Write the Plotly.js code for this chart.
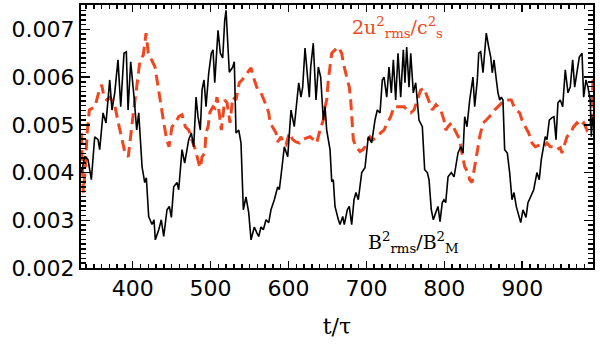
<!DOCTYPE html>
<html>
<head>
<meta charset="utf-8">
<script src="https://cdn.plot.ly/plotly-3.0.1.min.js"></script>
<style>
  body { margin: 0; background: #fff; }
  #plot { width: 600px; height: 346px; }
</style>
</head>
<body>
<div id="plot"></div>
<script>
// B_rms^2 / B_M^2  (black, solid), values in units of 1e-4
var tB = [334.0, 338.4, 342.6, 346.9, 351.2, 355.5, 357.6, 361.9, 365.7, 370.5, 373.4, 376.9, 381.1, 384.6, 388.8, 391.8,
  394.0, 397.4, 401.7, 405.1, 407.7, 412.0, 415.4, 417.5, 420.5, 424.8, 427.3, 429.0, 433.4, 436.7, 439.8, 444.0,
  447.0, 449.6, 452.6, 456.9, 459.0, 463.3, 466.7, 471.9, 475.2, 478.3, 481.3, 483.8, 486.8, 489.0, 491.5, 494.1,
  497.6, 500.9, 503.1, 505.3, 509.5, 512.5, 515.5, 518.1, 519.8, 524.0, 528.4, 530.4, 532.6, 536.1, 539.0, 542.0,
  545.4, 548.9, 551.9, 556.1, 559.2, 561.7, 564.7, 567.7, 571.1, 574.6, 577.5, 581.8, 586.1, 588.2, 591.7, 594.6,
  599.0, 603.2, 607.4, 613.1, 616.0, 618.2, 621.2, 623.4, 626.7, 628.5, 631.8, 635.3, 638.3, 641.3, 644.7, 646.9,
  649.0, 653.3, 655.5, 657.5, 659.7, 664.0, 666.1, 669.6, 671.6, 675.5, 678.0, 681.1, 684.1, 686.6, 689.6, 694.0,
  698.2, 702.4, 706.8, 711.0, 714.0, 717.5, 720.4, 722.6, 726.1, 729.0, 732.0, 734.6, 737.6, 740.6, 744.0, 747.4,
  749.5, 751.7, 754.7, 756.9, 760.2, 763.3, 767.5, 771.8, 774.8, 778.2, 780.4, 783.3, 785.9, 789.0, 791.9, 794.5,
  797.4, 799.6, 801.8, 804.8, 809.0, 812.5, 814.1, 817.6, 821.1, 824.0, 826.2, 829.1, 832.6, 834.7, 836.8, 839.0,
  842.4, 844.2, 846.7, 849.7, 851.9, 853.9, 857.0, 859.6, 861.6, 863.8, 866.8, 868.9, 871.1, 873.2, 875.3, 877.5,
  880.9, 883.9, 886.9, 889.5, 892.4, 895.5, 898.1, 901.0, 904.9, 907.4, 910.4, 914.8, 918.9, 921.9, 924.5, 927.6,
  929.6, 931.8, 934.8, 938.2, 940.8, 943.4, 945.9, 948.9, 952.0, 955.3, 958.8, 961.7, 964.8, 967.4, 970.3, 973.3,
  976.8, 978.9, 981.9, 984.4, 987.4, 988.7, 990.5];
var vB = [39.9, 43.4, 42.7, 38.5, 47.5, 46.9, 44.8, 52.5, 50.4, 59.4, 53.1, 56.7, 63.6, 53.8, 65.0, 65.3,
  53.1, 63.2, 55.8, 48.9, 52.5, 41.2, 37.9, 38.9, 30.8, 29.1, 30.1, 25.9, 28.0, 30.1, 26.6, 32.2,
  32.9, 30.6, 37.0, 37.9, 36.4, 44.8, 42.0, 46.9, 48.3, 45.4, 55.8, 51.7, 48.9, 57.3, 59.4, 53.8,
  60.9, 65.0, 65.7, 58.8, 69.8, 65.0, 64.0, 71.9, 74.0, 61.0, 62.1, 63.2, 48.3, 48.9, 46.2, 32.2,
  34.9, 31.6, 25.9, 28.6, 27.4, 26.6, 28.6, 28.0, 30.1, 29.5, 32.2, 34.3, 37.0, 36.4, 41.2, 45.4,
  43.3, 53.1, 49.6, 58.8, 55.8, 57.9, 66.1, 62.1, 55.8, 62.1, 67.1, 55.2, 62.1, 60.0, 51.0, 53.8,
  48.9, 44.8, 38.1, 38.5, 32.9, 30.1, 29.1, 30.8, 29.1, 32.2, 32.9, 29.1, 34.3, 35.8, 34.3, 40.0,
  41.0, 47.5, 46.2, 51.0, 53.1, 52.5, 59.4, 60.0, 55.8, 62.1, 56.7, 63.6, 55.2, 65.0, 55.8, 65.7,
  58.8, 66.3, 57.9, 65.0, 56.7, 58.8, 51.0, 49.6, 40.6, 40.0, 38.5, 32.2, 30.1, 31.6, 32.9, 29.7,
  33.7, 34.3, 33.7, 39.1, 40.0, 39.1, 40.6, 44.1, 45.4, 44.1, 51.7, 49.6, 55.2, 57.9, 60.0, 53.8,
  59.4, 65.0, 65.3, 60.9, 65.7, 69.2, 66.3, 64.2, 60.9, 63.6, 59.4, 56.7, 55.2, 55.8, 55.2, 44.8,
  44.1, 40.0, 34.3, 35.8, 32.9, 30.8, 29.5, 32.2, 30.6, 33.7, 34.7, 36.4, 40.0, 38.5, 42.7, 45.4,
  47.5, 46.9, 51.0, 51.5, 51.7, 46.9, 54.6, 55.2, 53.8, 61.5, 56.7, 57.9, 63.6, 57.9, 60.9, 64.2,
  65.0, 55.8, 59.4, 57.9, 55.2, 47.5, 51.7];

// 2 u_rms^2 / c_s^2  (red, dashed), values in units of 1e-4
var tU = [334.0, 336.6, 339.4, 341.3, 344.3, 347.8, 351.6, 355.5, 360.2, 363.2, 367.0, 370.9, 374.7, 377.3, 381.5, 385.9,
  390.1, 394.3, 396.5, 400.8, 405.1, 409.4, 413.6, 417.1, 420.0, 424.4, 428.6, 431.2, 435.0, 439.3, 443.6, 446.6,
  450.4, 454.7, 459.0, 463.3, 467.5, 471.9, 475.7, 480.4, 484.7, 486.8, 489.0, 492.4, 494.1, 496.7, 499.2, 503.1,
  505.6, 508.2, 511.4, 513.7, 518.1, 521.1, 524.9, 528.4, 532.6, 536.8, 540.3, 545.4, 549.7, 551.9, 556.1, 560.5,
  564.7, 569.0, 572.0, 574.6, 576.3, 580.1, 584.0, 586.1, 590.4, 593.3, 596.8, 601.0, 605.4, 609.6, 613.9, 617.3,
  623.4, 627.6, 631.8, 636.2, 640.4, 644.7, 646.9, 649.0, 651.1, 653.3, 655.5, 659.7, 664.0, 668.3, 670.4, 674.7,
  678.0, 679.8, 681.1, 683.2, 686.6, 691.8, 695.6, 698.2, 702.4, 704.6, 708.9, 714.0, 718.3, 722.6, 726.8, 731.2,
  735.4, 741.8, 748.3, 752.5, 756.9, 761.1, 765.3, 767.5, 769.7, 773.9, 778.2, 780.4, 784.6, 789.3, 795.4, 799.6,
  801.8, 804.8, 809.0, 815.4, 819.8, 821.8, 824.0, 826.2, 830.4, 832.6, 835.6, 841.1, 843.3, 845.4, 847.5, 849.7,
  853.9, 858.3, 862.5, 864.7, 869.0, 873.2, 877.5, 881.8, 886.0, 889.5, 892.4, 896.8, 899.7, 904.0, 908.3, 912.6,
  916.8, 923.2, 927.6, 931.8, 936.1, 940.4, 944.7, 948.9, 951.1, 957.5, 961.8, 966.1, 970.3, 974.6, 979.0, 983.2,
  987.4, 989.6, 991.0];
var vU = [48.3, 35.8, 41.6, 47.9, 53.1, 53.5, 53.8, 56.3, 58.4, 55.8, 55.2, 55.8, 54.6, 53.8, 50.4, 46.9,
  44.1, 43.3, 46.9, 52.5, 57.9, 63.6, 64.6, 69.2, 65.0, 63.6, 62.1, 59.4, 55.2, 51.0, 46.9, 45.4,
  49.6, 50.4, 51.7, 52.1, 49.6, 48.9, 46.9, 44.8, 42.0, 41.0, 43.3, 44.1, 48.3, 49.6, 52.7, 53.8,
  53.5, 55.8, 52.1, 48.9, 55.2, 54.6, 50.4, 55.8, 55.2, 58.8, 59.4, 60.4, 61.5, 61.9, 59.4, 57.3,
  56.7, 55.2, 53.8, 52.5, 50.4, 49.4, 48.3, 46.4, 47.5, 46.2, 45.8, 48.3, 46.9, 46.4, 46.2, 46.9,
  47.3, 47.5, 46.9, 46.2, 48.9, 51.0, 53.8, 55.2, 59.4, 62.1, 65.0, 65.7, 66.3, 65.0, 62.9, 60.0,
  57.9, 55.2, 51.7, 46.9, 45.4, 44.4, 44.8, 45.4, 46.9, 47.5, 46.9, 47.5, 48.3, 48.9, 50.4, 51.7,
  53.8, 53.8, 53.8, 53.1, 52.5, 53.1, 55.2, 56.7, 57.3, 57.7, 55.8, 55.2, 53.1, 54.2, 53.1, 51.0,
  48.9, 49.6, 50.4, 48.3, 46.9, 44.8, 43.3, 41.2, 40.0, 38.5, 37.9, 42.7, 45.4, 47.5, 48.9, 50.4,
  51.0, 51.7, 52.5, 53.1, 53.8, 54.6, 55.2, 55.2, 55.2, 53.8, 53.1, 52.5, 51.0, 49.6, 48.3, 46.2,
  45.4, 45.8, 45.4, 46.2, 45.4, 45.4, 44.8, 45.2, 44.1, 47.5, 48.3, 49.6, 50.4, 49.6, 50.4, 48.9,
  49.6, 53.1, 60.0];

var xTicks = [400, 500, 600, 700, 800, 900];
var yTicks = [0.002, 0.003, 0.004, 0.005, 0.006, 0.007];

var red = '#f2461e';

var trace1 = {
  x: tU,
  y: vU.map(function (v) { return v * 1e-4; }),
  type: 'scatter',
  mode: 'lines',
  line: {color: red, width: 3, dash: '11px,6px'},
  hoverinfo: 'none'
};

var trace2 = {
  x: tB,
  y: vB.map(function (v) { return v * 1e-4; }),
  type: 'scatter',
  mode: 'lines',
  line: {color: 'black', width: 1.6},
  hoverinfo: 'none'
};

var layout = {
  width: 600,
  height: 346,
  margin: {l: 81, r: 7, t: 5, b: 78},
  paper_bgcolor: 'white',
  plot_bgcolor: 'white',
  showlegend: false,
  font: {family: 'DejaVu Sans', color: 'black'},
  xaxis: {
    range: [333.6, 990.9],
    tickvals: xTicks,
    ticks: 'inside',
    ticklen: 7,
    tickwidth: 1.5,
    tickcolor: 'black',
    minor: {dtick: 10, ticks: 'inside', ticklen: 4, tickwidth: 1.5, tickcolor: 'black'},
    showline: true,
    linewidth: 2,
    linecolor: 'black',
    mirror: 'ticks',
    showgrid: false,
    zeroline: false,
    tickfont: {size: 22},
    title: {text: 't/τ', font: {family: 'DejaVu Serif', size: 22}, standoff: 18}
  },
  yaxis: {
    range: [0.002, 0.00751],
    tickvals: yTicks,
    tickformat: '.3f',
    ticks: 'inside',
    ticklen: 9,
    tickwidth: 1.5,
    tickcolor: 'black',
    minor: {dtick: 0.0001, ticks: 'inside', ticklen: 5, tickwidth: 1.5, tickcolor: 'black'},
    showline: true,
    linewidth: 2,
    linecolor: 'black',
    mirror: 'ticks',
    showgrid: false,
    zeroline: false,
    tickfont: {size: 22}
  },
  annotations: [
    {
      x: 679, y: 0.00703, xref: 'x', yref: 'y', xanchor: 'left', yanchor: 'middle',
      text: '2u<sup>2</sup><sub>rms</sub>/c<sup>2</sup><sub>s</sub>',
      showarrow: false,
      font: {family: 'DejaVu Serif', size: 19, color: red}
    },
    {
      x: 700, y: 0.00253, xref: 'x', yref: 'y', xanchor: 'left', yanchor: 'middle',
      text: 'B<sup>2</sup><sub>rms</sub>/B<sup>2</sup><sub>M</sub>',
      showarrow: false,
      font: {family: 'DejaVu Serif', size: 19, color: 'black'}
    }
  ]
};

Plotly.newPlot('plot', [trace1, trace2], layout, {displayModeBar: false, staticPlot: true});
</script>
</body>
</html>
